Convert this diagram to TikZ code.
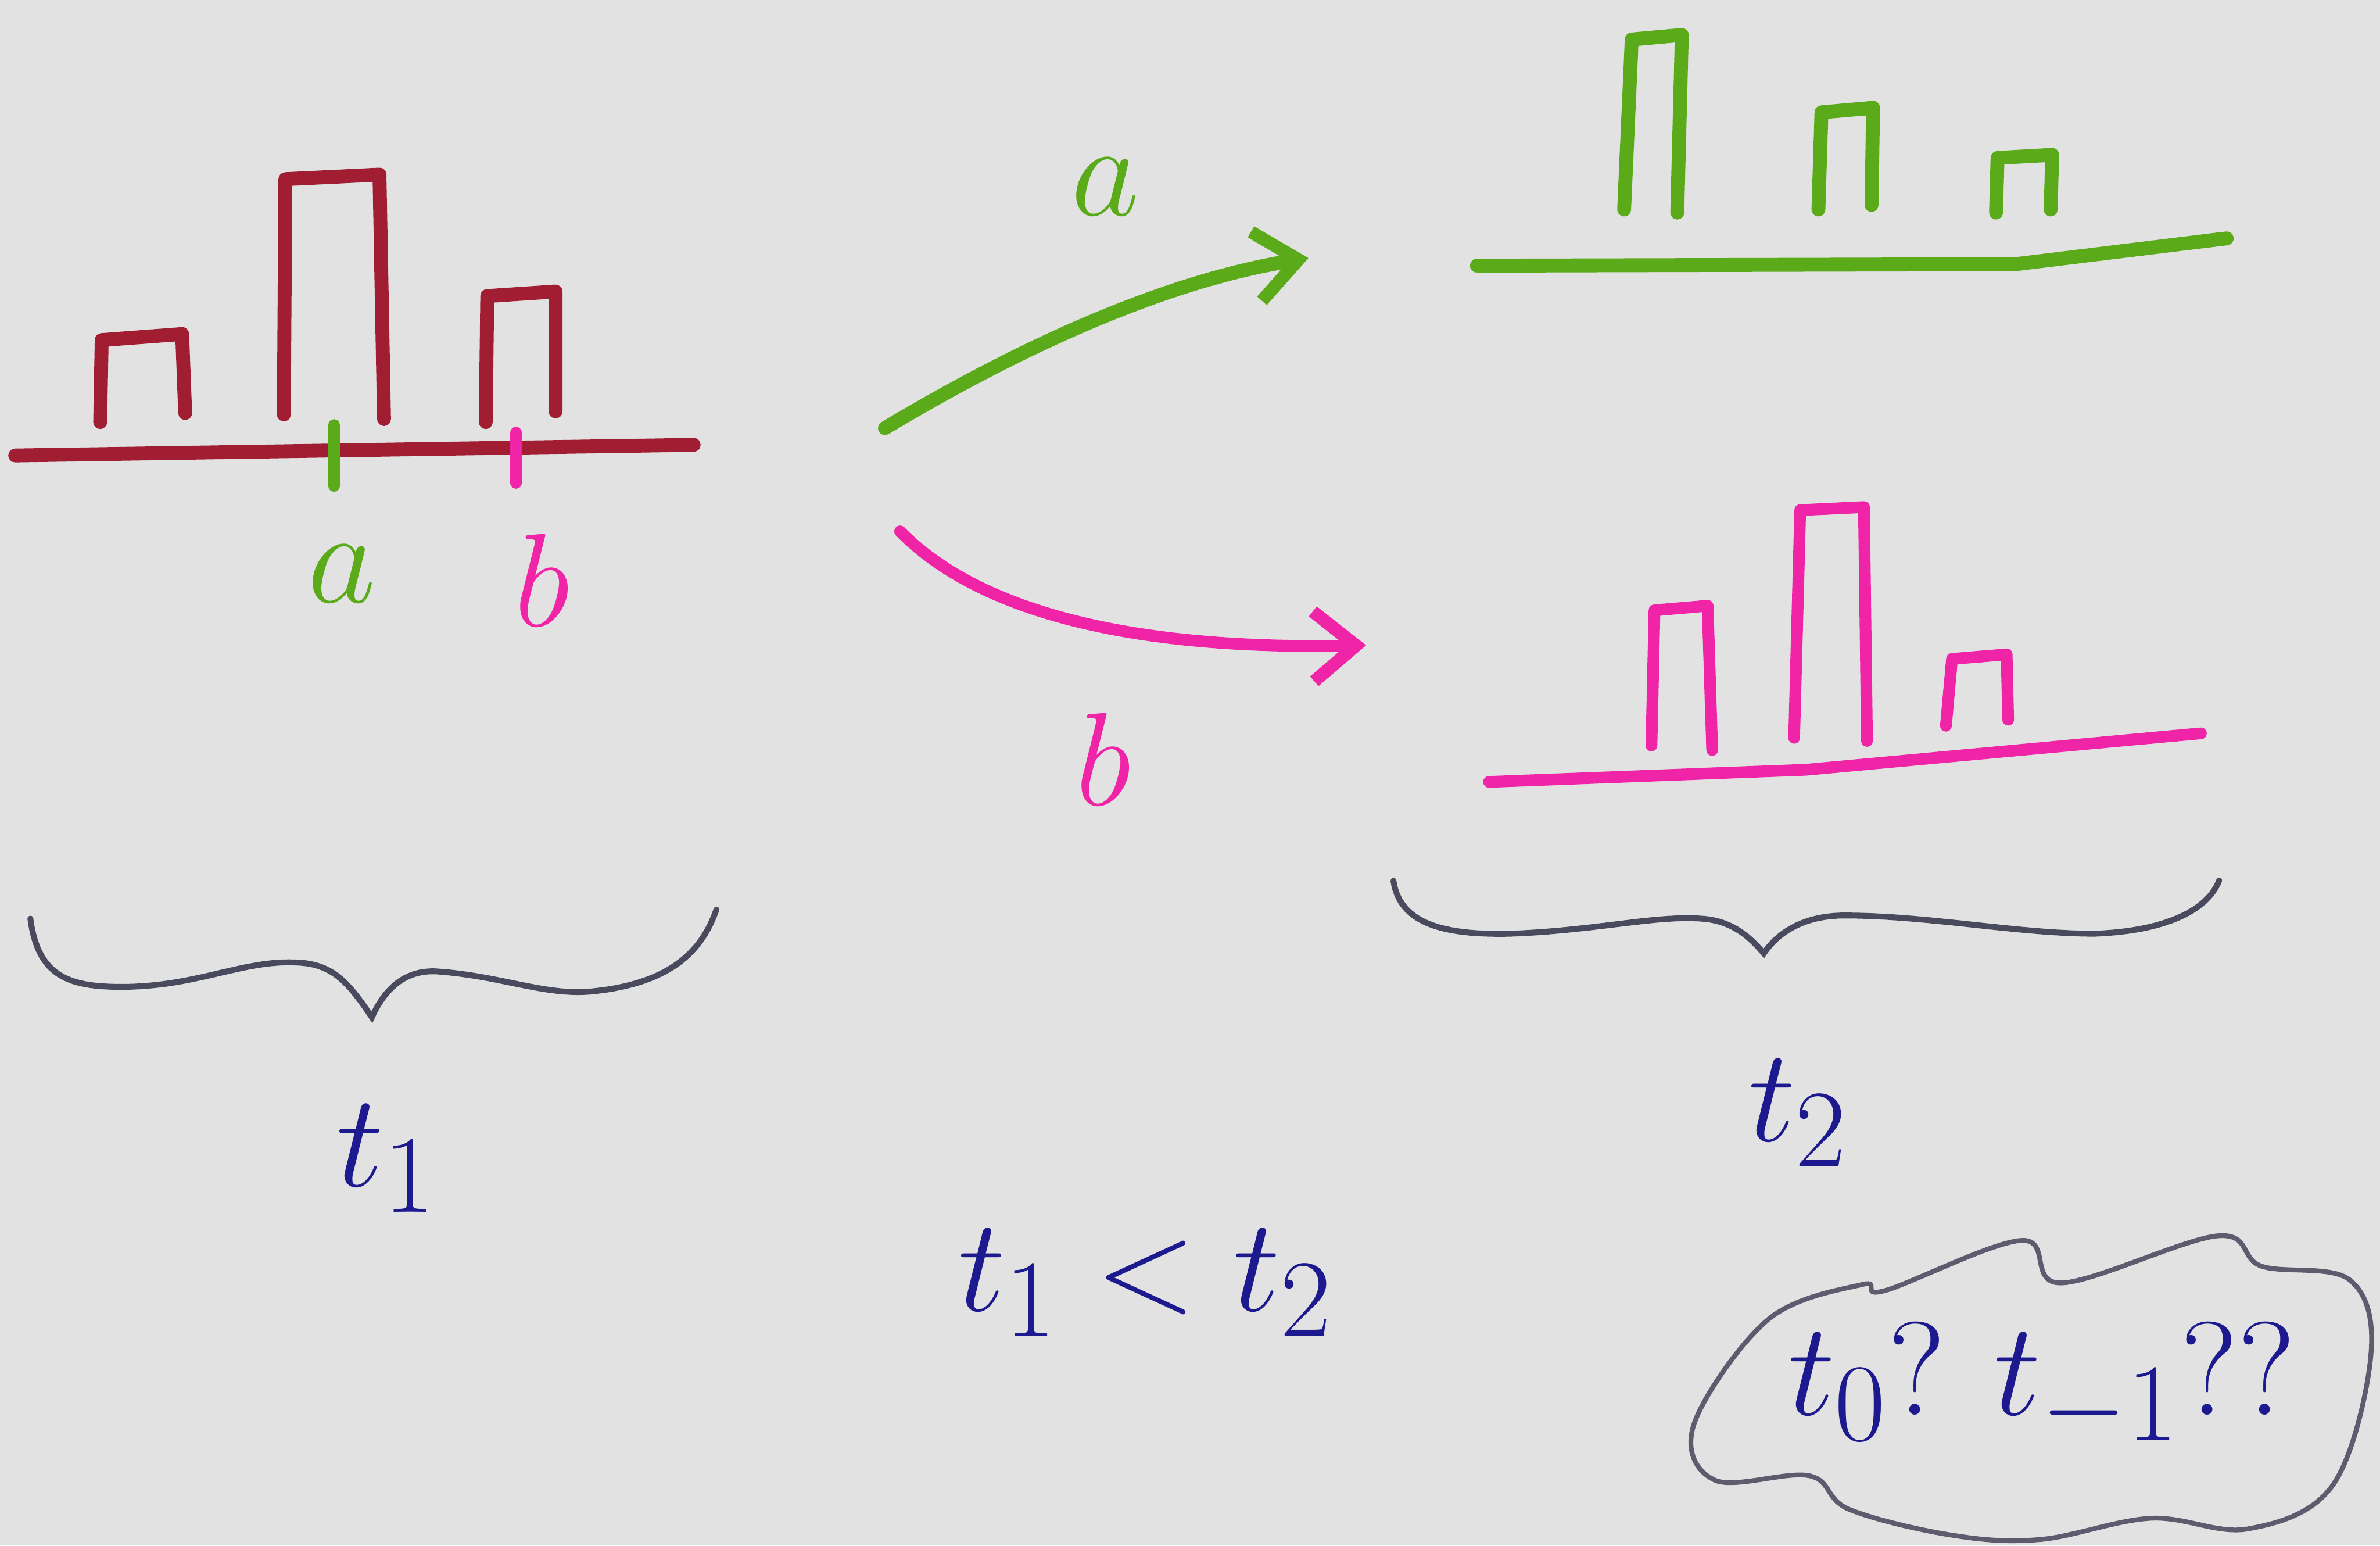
\documentclass[tikz,border=0pt]{standalone}
\usepackage{amsmath}
\usepackage{xcolor}
\usetikzlibrary{arrows.meta, positioning}

\definecolor{fundo}{HTML}{E2E2E2}
\definecolor{vinho}{HTML}{A11E32}
\definecolor{verde}{HTML}{5BAA1A}
\definecolor{rosa}{HTML}{F024A6}
\definecolor{tinta}{HTML}{1C1A8E}
\definecolor{lapis}{HTML}{4A4A5E}

\begin{document}
\begin{tikzpicture}[
            marker/.style={line width=2.6pt, line cap=round, line join=round},
            barra_vinho/.style={marker, draw=vinho},
            barra_verde/.style={marker, draw=verde},
            barra_rosa/.style={marker, line width=2.2pt, draw=rosa},
            chave/.style={draw=lapis, line width=1.1pt, line cap=round},
            letra/.style={font=\fontsize{38}{44}\selectfont},
            rotulo_t/.style={text=tinta, font=\fontsize{32}{38}\selectfont},
            seta/.style={marker, -{Straight Barb[length=2.8mm, width=4.6mm, line width=2.4pt]}}
        ]
            % fundo e margens
            \fill[fundo] (0,0) rectangle (15.68,10.18);
            \useasboundingbox (0,0) rectangle (15.68,10.18);

            % --- t1: histograma original ---
            \draw[barra_vinho] (0.10,7.18) -- (4.57,7.25);
            \draw[barra_vinho] (0.66,7.40) -- (0.67,7.94) -- (1.20,7.98) -- (1.22,7.46);
            \draw[barra_vinho] (1.87,7.45) -- (1.88,9.00) -- (2.50,9.03) -- (2.53,7.42);
            \draw[barra_vinho] (3.20,7.40) -- (3.21,8.23) -- (3.66,8.26) -- (3.66,7.47);
            % marcas a e b sobre o eixo
            \draw[barra_verde, line width=2.2pt] (2.20,7.38) -- (2.20,6.98);
            \draw[barra_rosa] (3.40,7.33) -- (3.40,7.00);
            \node[letra, text=verde] (a_eixo) at (2.25,6.40) {$a$};
            \node[letra, text=rosa] (b_eixo) at (3.57,6.36) {$b$};

            % --- setas de evolucao ---
            \coordinate (src_a) at (5.83,7.36);
            \coordinate (dst_a) at (8.62,8.48);
            \coordinate (src_b) at (5.93,6.68);
            \coordinate (dst_b) at (9.00,5.93);
            \draw[seta, draw=verde] (src_a) .. controls (6.90,8.00) and (7.80,8.35) .. (dst_a);
            \draw[seta, draw=rosa, line width=2.2pt] (src_b) .. controls (6.50,6.10) and (7.60,5.90) .. (dst_b);
            \node[letra, text=verde] (a_seta) at (7.28,8.95) {$a$};
            \node[letra, text=rosa] (b_seta) at (7.27,5.18) {$b$};

            % --- t2 via a ---
            \draw[barra_verde] (9.73,8.43) -- (13.28,8.44) -- (14.67,8.61);
            \draw[barra_verde] (10.70,8.80) -- (10.75,9.92) -- (11.08,9.95) -- (11.05,8.78);
            \draw[barra_verde] (11.98,8.80) -- (12.00,9.44) -- (12.34,9.47) -- (12.33,8.83);
            \draw[barra_verde] (13.15,8.78) -- (13.16,9.14) -- (13.52,9.16) -- (13.51,8.80);

            % --- t2 via b ---
            \draw[barra_rosa] (9.81,5.03) -- (11.90,5.11) -- (14.50,5.35);
            \draw[barra_rosa] (10.88,5.27) -- (10.90,6.16) -- (11.25,6.19) -- (11.28,5.24);
            \draw[barra_rosa] (11.82,5.32) -- (11.86,6.82) -- (12.28,6.84) -- (12.30,5.30);
            \draw[barra_rosa] (12.82,5.40) -- (12.86,5.84) -- (13.22,5.87) -- (13.23,5.44);

            % --- chaves ---
            \draw[chave] (0.20,4.13) .. controls (0.25,3.75) and (0.45,3.68) .. (0.80,3.68)
                .. controls (1.30,3.68) and (1.60,3.86) .. (1.96,3.84)
                .. controls (2.20,3.83) and (2.30,3.70) .. (2.45,3.48)
                .. controls (2.55,3.70) and (2.70,3.80) .. (2.90,3.78)
                .. controls (3.30,3.75) and (3.60,3.62) .. (3.90,3.65)
                .. controls (4.40,3.70) and (4.62,3.90) .. (4.72,4.19);
            \draw[chave] (9.18,4.38) .. controls (9.22,4.10) and (9.50,4.02) .. (9.95,4.03)
                .. controls (10.50,4.05) and (10.90,4.15) .. (11.20,4.13)
                .. controls (11.40,4.12) and (11.52,4.02) .. (11.62,3.90)
                .. controls (11.72,4.05) and (11.90,4.15) .. (12.15,4.15)
                .. controls (12.70,4.15) and (13.30,4.03) .. (13.80,4.03)
                .. controls (14.30,4.05) and (14.55,4.20) .. (14.62,4.38);
            \node[rotulo_t] (t_um) at (2.55,2.55) {$t_1$};
            \node[rotulo_t] (t_dois) at (11.85,2.85) {$t_2$};

            % --- relacao e pergunta ---
            \node[rotulo_t] (ordem) at (7.55,1.73) {$t_1 < t_2$};
            \node[rotulo_t, font=\fontsize{30}{36}\selectfont] (pergunta) at (13.45,1.05) {$t_0?\ t_{-1}??$};
            \draw[chave, line width=0.9pt, draw=lapis!90] plot[smooth cycle, tension=0.6] coordinates {
                (11.16,0.80) (11.65,1.49) (12.27,1.72) (12.42,1.68) (13.32,2.01) (13.58,1.73)
                (14.61,2.04) (14.90,1.84) (15.48,1.75) (15.62,1.26) (15.37,0.40) (14.81,0.11)
                (14.17,0.18) (13.44,0.04) (12.85,0.07) (12.18,0.24) (11.92,0.46) (11.30,0.43)};

        \end{tikzpicture}
\end{document}
